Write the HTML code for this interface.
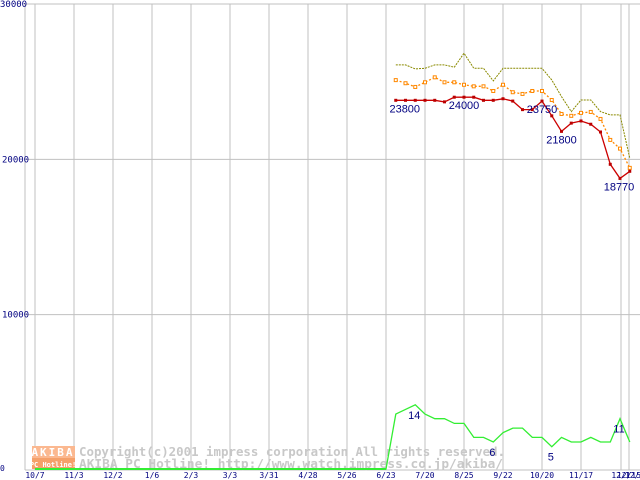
<!DOCTYPE html>
<html><head><meta charset="utf-8"><style>
html,body{margin:0;padding:0;background:#fff;}
svg{display:block;}
text{font-family:"DejaVu Sans Mono","Liberation Mono",monospace;}
</style></head><body>
<svg id="chart" width="640" height="480" viewBox="0 0 640 480">
<g id="grid"></g>
<g id="wm">
<rect x="32" y="446" width="43" height="12" fill="#fbb890"/>
<text x="53" y="456" font-size="11" fill="#fff" text-anchor="middle" font-weight="bold" letter-spacing="2">AKIBA</text>
<rect x="32" y="458" width="43" height="11" fill="#f5a06a"/>
<text x="53" y="467" font-size="7" fill="#fff" text-anchor="middle" font-weight="bold">PC Hotline!</text>
<text x="79" y="456" font-size="12.5" fill="#c8c8c8" font-weight="bold" textLength="426" lengthAdjust="spacingAndGlyphs">Copyright(c)2001 impress corporation All rights reserved.</text>
<text x="79" y="468" font-size="12.5" fill="#c8c8c8" font-weight="bold" textLength="424" lengthAdjust="spacingAndGlyphs">AKIBA PC Hotline!  http://www.watch.impress.co.jp/akiba/</text>
</g>
<g id="series"></g>
<g id="labels"></g>
</svg>
<script>
const xLabels=["10/7","11/3","12/2","1/6","2/3","3/3","3/31","4/28","5/26","6/23","7/20","8/25","9/22","10/20","11/17","12/1","12/15","12/22"];
const yTicks=[0,10000,20000,30000];
const redPrices=[23800,23800,23800,23800,23800,23700,24000,24000,24000,23800,23800,23900,23750,23200,23200,23750,22800,21800,22330,22470,22260,21760,19680,18770,19230];
const orangePrices=[25100,24900,24660,24960,25280,24960,24960,24800,24700,24700,24400,24800,24320,24210,24400,24400,23820,22920,22800,22990,23050,22600,21250,20690,19450];
const olivePrices=[26080,26080,25820,25860,26080,26080,25930,26830,25860,25860,25050,25860,25860,25860,25860,25860,25110,24040,23070,23820,23820,23070,22860,22860,20070];
const shopCounts=[12,13,14,12,11,11,10,10,7,7,6,8,9,9,7,7,5,7,6,6,7,6,6,11,6];
const priceLabels=[[0,"23800"],[7,"24000"],[15,"23750"],[17,"21800"],[23,"18770"]];
const countLabels=[[2,"14"],[10,"6"],[16,"5"],[23,"11"]];
const NS="http://www.w3.org/2000/svg";
const X0=386,STEP=9.75,Y0=470,YTOP=4,YMAX=30000,COUNT_SCALE=300;
function xi(i){return X0+STEP*(i+1);}
function yv(v){return Y0-(v/YMAX)*(Y0-YTOP);}
function gx(k){return 35+39*k;}
function mk(tag,attrs,parent){const e=document.createElementNS(NS,tag);for(const k in attrs)e.setAttribute(k,attrs[k]);parent.appendChild(e);return e;}
const grid=document.getElementById('grid');
mk('line',{x1:25,y1:YTOP,x2:25,y2:Y0,stroke:'#c0c0c0'},grid);
yTicks.forEach(v=>{
  const l=mk('line',{x1:25,x2:640,y1:yv(v),y2:yv(v),stroke:'#c0c0c0'},grid);
  
  
  const t=mk('text',{x:v===0?0:(v===30000?0:2),y:yv(v)+(v===30000?3:(v===0?1:3)),'font-size':v===0?8:9,fill:'#000080'},grid);
  t.textContent=String(v);
  
  
});
xLabels.forEach((s,k)=>{
  const x=k===15?621:(k===16?629:(k===17?637:gx(k)));
  if(k<17){const l=mk('line',{x1:x,x2:x,y1:YTOP,y2:Y0,stroke:'#c0c0c0'},grid);
  
  }
  const t=mk('text',{x:x,y:478,'font-size':8,fill:'#000080','text-anchor':'middle'},grid);
  t.textContent=s;
  
  
});
const ser=document.getElementById('series');
function pts(arr,f){return arr.map((v,i)=>xi(i).toFixed(1)+','+f(v).toFixed(1)).join(' ');}
let gp='35,469 '+X0+',469 '+pts(shopCounts,v=>yv(v*COUNT_SCALE));
const gl=mk('polyline',{points:gp,fill:'none',stroke:'#33ee33','stroke-width':1.3},ser);


mk('line',{x1:35,x2:X0,y1:469,y2:469,stroke:'#33ee33','stroke-width':2},ser);
const ol=mk('polyline',{points:pts(olivePrices,yv),fill:'none',stroke:'#8a8a00','stroke-width':1,'stroke-dasharray':'2,1'},ser);


const orl=mk('polyline',{points:pts(orangePrices,yv),fill:'none',stroke:'#ff8800','stroke-width':1.3,'stroke-dasharray':'2,2'},ser);


orangePrices.forEach((v,i)=>{
  const r=mk('rect',{x:xi(i)-1.5,y:yv(v)-1.5,width:3,height:3,fill:'#fff',stroke:'#ff8800','stroke-width':1},ser);
  
  
});
const rl=mk('polyline',{points:pts(redPrices,yv),fill:'none',stroke:'#cc0000','stroke-width':1.3},ser);


redPrices.forEach((v,i)=>{
  const r=mk('rect',{x:xi(i)-1.5,y:yv(v)-1.5,width:3,height:3,fill:'#bb0000'},ser);
  
  
});
const lab=document.getElementById('labels');
priceLabels.forEach(([i,s])=>{
  const t=mk('text',{x:xi(i)+(i===23?-1:(i===0?9:0)),y:yv(redPrices[i])+12,'font-size':11,fill:'#000080','text-anchor':'middle'},lab);
  t.setAttribute('style','font-family:"Liberation Sans",sans-serif');
  t.textContent=s;
  
  
});
countLabels.forEach(([i,s])=>{
  const t=mk('text',{x:xi(i)-1,y:yv(shopCounts[i]*COUNT_SCALE)+14,'font-size':11,fill:'#000080','text-anchor':'middle'},lab);
  t.setAttribute('style','font-family:"Liberation Sans",sans-serif');
  t.textContent=s;
  
  
});
</script>
</body></html>
